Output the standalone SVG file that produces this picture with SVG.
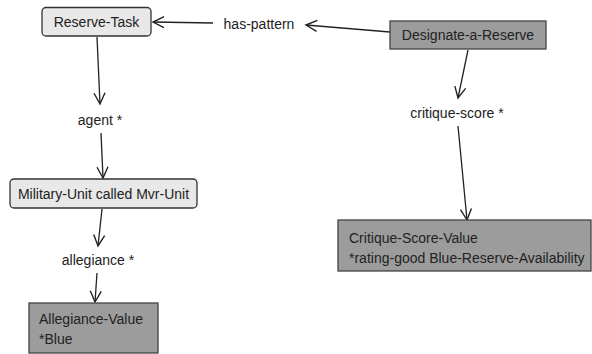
<svg xmlns="http://www.w3.org/2000/svg" width="592" height="354" viewBox="0 0 592 354">
<defs>
<marker id="arr" markerUnits="userSpaceOnUse" markerWidth="16" markerHeight="16" refX="12" refY="7" orient="auto" viewBox="0 0 16 14">
<path d="M1,1.5 L12,7 L1,12.5" fill="none" stroke="#222" stroke-width="1.4"/>
</marker>
<style>
text{font-family:"Liberation Sans",Arial,sans-serif;font-size:14px;fill:#222}
.light{fill:#e8e8e8;stroke:#333;stroke-width:1.3}
.dark{fill:#9c9c9c;stroke:#444;stroke-width:1.3}
.edge{stroke:#222;stroke-width:1.3;fill:none;marker-end:url(#arr)}
</style>
</defs>
<rect width="592" height="354" fill="#fff"/>
<g id="connectors">
<line class="edge" x1="213" y1="23" x2="153" y2="22"/>
<line class="edge" x1="390" y1="32" x2="306" y2="25"/>
<line class="edge" x1="97" y1="37" x2="100" y2="104"/>
<line class="edge" x1="101" y1="133" x2="103" y2="178"/>
<line class="edge" x1="102" y1="209" x2="98" y2="246"/>
<line class="edge" x1="97" y1="273" x2="95" y2="302"/>
<line class="edge" x1="468" y1="50" x2="458" y2="98"/>
<line class="edge" x1="458" y1="126" x2="467" y2="220"/>
</g>
<g id="reserve-task">
<rect class="light" x="42" y="7.5" width="109" height="28.5" rx="4"/>
<text x="96.5" y="27" text-anchor="middle">Reserve-Task</text>
</g>
<g id="has-pattern">
<text x="259" y="29" text-anchor="middle">has-pattern</text>
</g>
<g id="designate-a-reserve">
<rect class="dark" x="390" y="21" width="156" height="28"/>
<text x="468" y="40" text-anchor="middle">Designate-a-Reserve</text>
</g>
<g id="agent">
<text x="100" y="125" text-anchor="middle">agent *</text>
</g>
<g id="critique-score">
<text x="457" y="118" text-anchor="middle">critique-score *</text>
</g>
<g id="military-unit">
<rect class="light" x="10" y="179" width="187" height="29" rx="4"/>
<text x="103.5" y="199" text-anchor="middle">Military-Unit called Mvr-Unit</text>
</g>
<g id="allegiance">
<text x="98" y="265" text-anchor="middle">allegiance *</text>
</g>
<g id="allegiance-value">
<rect class="dark" x="29" y="303" width="129" height="50"/>
<text x="39" y="324">Allegiance-Value</text>
<text x="39" y="344">*Blue</text>
</g>
<g id="critique-score-value">
<rect class="dark" x="338" y="220" width="253" height="51"/>
<text x="349" y="243">Critique-Score-Value</text>
<text x="349" y="263">*rating-good Blue-Reserve-Availability</text>
</g>
</svg>
